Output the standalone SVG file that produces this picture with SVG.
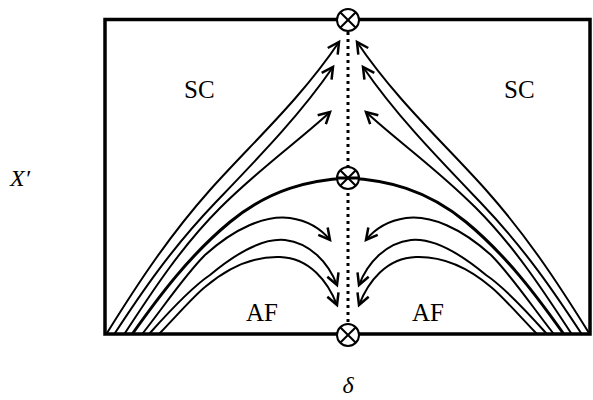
<svg xmlns="http://www.w3.org/2000/svg" width="593" height="400" viewBox="0 0 593 400">
<style>
.flow{fill:none;stroke:#000;stroke-width:2;stroke-linejoin:round;stroke-linecap:round}
.sep{fill:none;stroke:#000;stroke-width:3;stroke-linecap:round}
.fp circle{fill:#fff;stroke:#000;stroke-width:2}
.fp line{stroke:#000;stroke-width:2}
.lbl{font-family:"Liberation Serif","Times New Roman",serif;font-size:25px;fill:#000}
.math{font-family:"Liberation Serif","Times New Roman",serif;font-style:italic;font-size:24px;fill:#000}
</style>
<defs>
<marker id="arr" markerUnits="userSpaceOnUse" markerWidth="20" markerHeight="20" viewBox="-12 -8 14 16" refX="0" refY="0" orient="auto" overflow="visible">
<path d="M-9,-4.8 L0,0 L-9,4.8" fill="none" stroke="#000" stroke-width="2" stroke-linejoin="miter"/>
</marker>
<g id="half">
<path class="flow" d="M107,333 C140,280 170,235 210,190 S300,100 339,42" marker-end="url(#arr)"/>
<path class="flow" d="M115,333 C140,295 170,250 215,203 S300,115 333,67" marker-end="url(#arr)"/>
<path class="flow" d="M125,333 C150,295 180,248 220,208 S300,140 330,112" marker-end="url(#arr)"/>
<path class="sep" d="M133,333 C160,295 190,255 230,222 S310,180 348,178"/>
<path class="flow" d="M143,333 C165,305 185,275 205,255 C235,228 265,215 290,218 C310,221 322,230 330,240" marker-end="url(#arr)"/>
<path class="flow" d="M150,333 C175,305 195,285 210,275 C240,250 265,238 285,240 C310,243 328,262 337,285" marker-end="url(#arr)"/>
<path class="flow" d="M160,333 C180,312 195,295 205,287 C225,270 250,256 280,257 C310,258 328,282 337,305" marker-end="url(#arr)"/>
</g>
</defs>
<g id="frame">
<rect x="105" y="19.5" width="485" height="314.5" fill="none" stroke="#000" stroke-width="3.5"/>
</g>
<g id="connectors">
<line x1="348" y1="32" x2="348" y2="326" stroke="#000" stroke-width="3" stroke-dasharray="3 4"/>
<use href="#half"/>
<use href="#half" transform="translate(696,0) scale(-1,1)"/>
</g>
<g id="node-top" class="fp">
<circle cx="348" cy="20" r="11"/>
<line x1="340.2" y1="12.2" x2="355.8" y2="27.8"/>
<line x1="355.8" y1="12.2" x2="340.2" y2="27.8"/>
</g>
<g id="node-mid" class="fp">
<circle cx="348" cy="178" r="11"/>
<line x1="340.2" y1="170.2" x2="355.8" y2="185.8"/>
<line x1="355.8" y1="170.2" x2="340.2" y2="185.8"/>
<line x1="337" y1="178" x2="359" y2="178" style="stroke-width:3"/>
</g>
<g id="node-bottom" class="fp">
<circle cx="348" cy="335" r="11"/>
<line x1="340.2" y1="327.2" x2="355.8" y2="342.8"/>
<line x1="355.8" y1="327.2" x2="340.2" y2="342.8"/>
</g>
<g id="labels">
<text class="lbl" x="184" y="98">SC</text>
<text class="lbl" x="504" y="98">SC</text>
<text class="lbl" x="246" y="321">AF</text>
<text class="lbl" x="412" y="321">AF</text>
<text class="math" x="10" y="186">X′</text>
<text class="math" x="348" y="393" text-anchor="middle">δ</text>
</g>
</svg>
